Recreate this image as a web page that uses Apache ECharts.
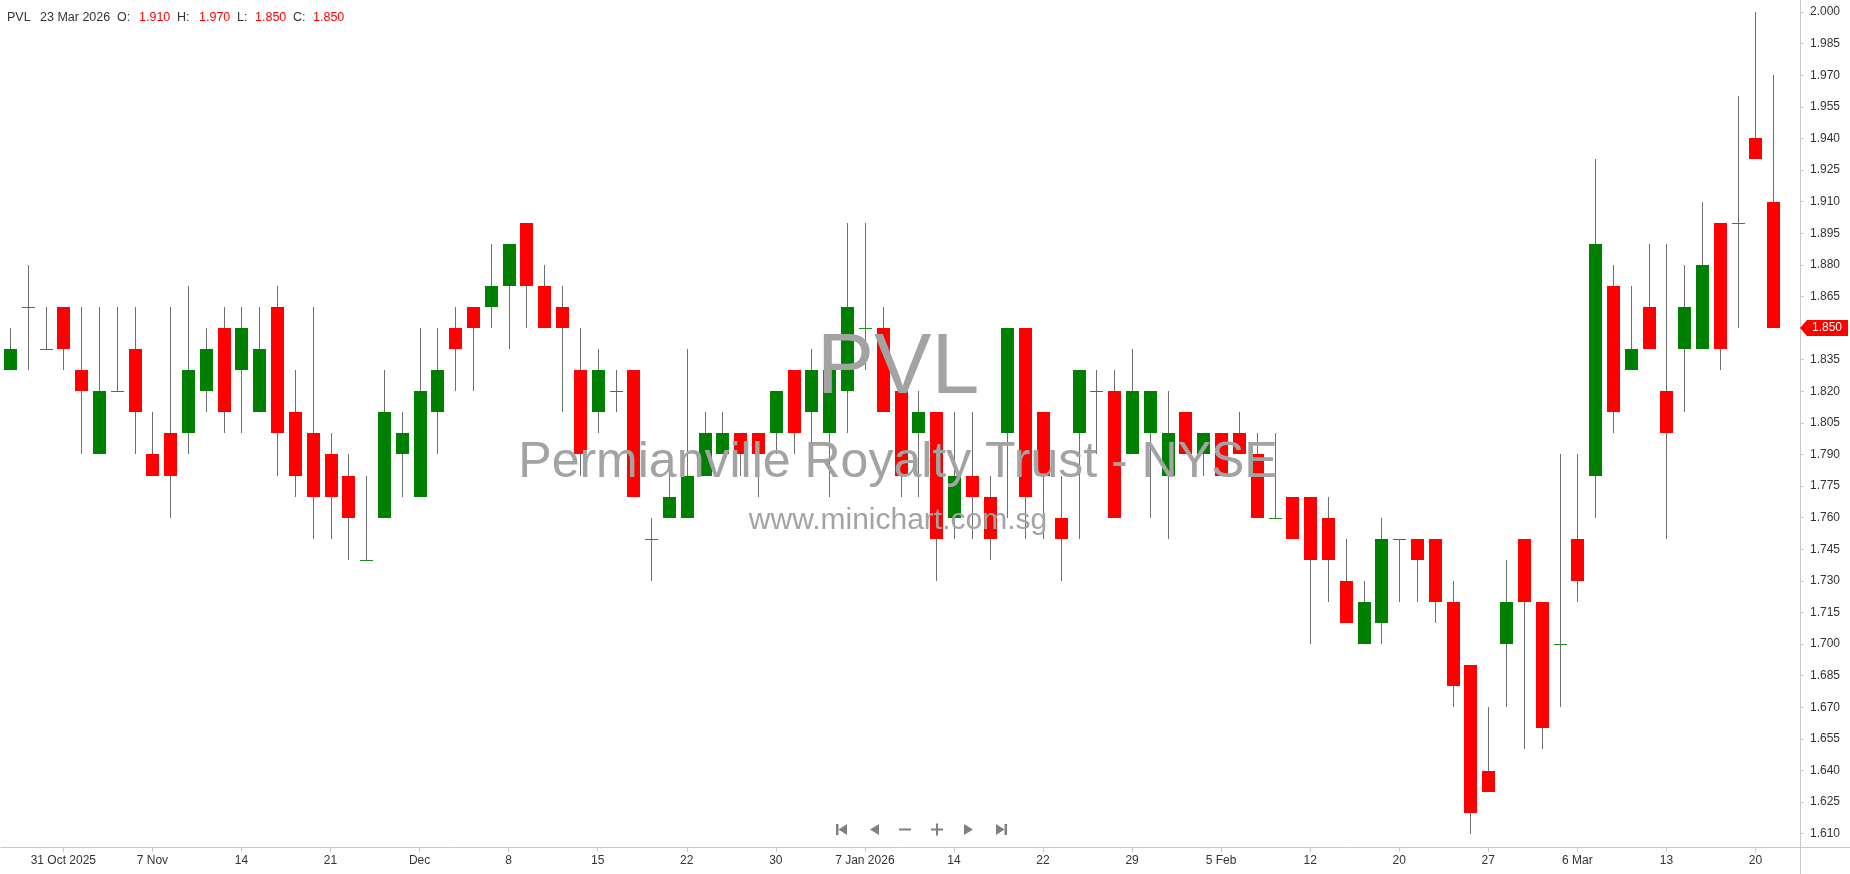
<!DOCTYPE html>
<html><head><meta charset="utf-8">
<script src="https://cdn.jsdelivr.net/npm/echarts@6/dist/echarts.min.js"></script>
<style>html,body{margin:0;padding:0;background:#fff;}#c{width:1850px;height:874px;}</style>
</head><body><div id="c"></div>
<script>
var dates = ['2025-10-28','2025-10-29','2025-10-30','2025-10-31',
'2025-11-03','2025-11-04','2025-11-05','2025-11-06','2025-11-07',
'2025-11-10','2025-11-11','2025-11-12','2025-11-13','2025-11-14',
'2025-11-17','2025-11-18','2025-11-19','2025-11-20','2025-11-21',
'2025-11-24','2025-11-25','2025-11-26','2025-11-28',
'2025-12-01','2025-12-02','2025-12-03','2025-12-04','2025-12-05',
'2025-12-08','2025-12-09','2025-12-10','2025-12-11','2025-12-12',
'2025-12-15','2025-12-16','2025-12-17','2025-12-18','2025-12-19',
'2025-12-22','2025-12-23','2025-12-24','2025-12-26',
'2025-12-29','2025-12-30','2025-12-31',
'2026-01-02','2026-01-05','2026-01-06','2026-01-07','2026-01-08','2026-01-09',
'2026-01-12','2026-01-13','2026-01-14','2026-01-15','2026-01-16',
'2026-01-20','2026-01-21','2026-01-22','2026-01-23',
'2026-01-26','2026-01-27','2026-01-28','2026-01-29','2026-01-30',
'2026-02-02','2026-02-03','2026-02-04','2026-02-05','2026-02-06',
'2026-02-09','2026-02-10','2026-02-11','2026-02-12','2026-02-13',
'2026-02-17','2026-02-18','2026-02-19','2026-02-20',
'2026-02-23','2026-02-24','2026-02-25','2026-02-26','2026-02-27',
'2026-03-02','2026-03-03','2026-03-04','2026-03-05','2026-03-06',
'2026-03-09','2026-03-10','2026-03-11','2026-03-12','2026-03-13',
'2026-03-16','2026-03-17','2026-03-18','2026-03-19','2026-03-20',
'2026-03-23'];

var open = [1.83,1.86,1.84,1.86,1.83,1.79,1.82,1.84,1.79,1.80,
1.80,1.82,1.85,1.83,1.81,1.86,1.81,1.80,1.79,1.78,
1.74,1.76,1.79,1.77,1.81,1.85,1.86,1.86,1.87,1.90,
1.87,1.86,1.83,1.81,1.82,1.83,1.75,1.76,1.76,1.78,
1.79,1.80,1.80,1.80,1.83,1.81,1.80,1.82,1.85,1.85,
1.82,1.80,1.81,1.76,1.78,1.77,1.80,1.85,1.81,1.76,
1.80,1.82,1.82,1.79,1.80,1.78,1.81,1.79,1.80,1.80,
1.79,1.76,1.77,1.77,1.76,1.73,1.70,1.71,1.75,1.75,
1.75,1.72,1.69,1.64,1.70,1.75,1.72,1.70,1.75,1.78,
1.87,1.83,1.86,1.82,1.84,1.84,1.90,1.90,1.94,1.91];

var high = [1.85,1.88,1.86,1.86,1.86,1.86,1.86,1.86,1.81,1.86,
1.87,1.85,1.86,1.86,1.86,1.87,1.83,1.86,1.80,1.79,
1.78,1.83,1.81,1.85,1.85,1.86,1.86,1.89,1.89,1.90,
1.88,1.87,1.85,1.84,1.83,1.83,1.76,1.79,1.84,1.81,
1.81,1.80,1.80,1.82,1.83,1.84,1.83,1.90,1.90,1.86,
1.82,1.82,1.81,1.81,1.81,1.78,1.85,1.85,1.81,1.78,
1.83,1.83,1.83,1.84,1.82,1.82,1.81,1.80,1.80,1.81,
1.80,1.80,1.77,1.77,1.77,1.75,1.73,1.76,1.75,1.75,
1.75,1.73,1.69,1.67,1.74,1.75,1.72,1.79,1.79,1.93,
1.88,1.87,1.89,1.89,1.88,1.91,1.90,1.96,2.00,1.97];

var low = [1.83,1.83,1.84,1.83,1.79,1.79,1.82,1.79,1.78,1.76,
1.79,1.81,1.80,1.80,1.81,1.78,1.77,1.75,1.75,1.74,
1.74,1.76,1.77,1.77,1.79,1.82,1.82,1.85,1.84,1.85,
1.85,1.81,1.78,1.80,1.81,1.77,1.73,1.76,1.76,1.78,
1.79,1.78,1.77,1.79,1.79,1.79,1.77,1.80,1.83,1.81,
1.77,1.77,1.73,1.75,1.75,1.74,1.76,1.75,1.75,1.73,
1.75,1.79,1.76,1.79,1.76,1.75,1.79,1.78,1.78,1.79,
1.76,1.76,1.75,1.70,1.72,1.71,1.70,1.70,1.72,1.72,
1.71,1.67,1.61,1.63,1.67,1.65,1.65,1.67,1.72,1.76,
1.80,1.83,1.84,1.75,1.81,1.84,1.83,1.85,1.93,1.85];

var close = [1.84,1.86,1.84,1.84,1.82,1.82,1.82,1.81,1.78,1.78,
1.83,1.84,1.81,1.85,1.84,1.80,1.78,1.77,1.77,1.76,
1.74,1.81,1.80,1.82,1.83,1.84,1.85,1.87,1.89,1.87,
1.85,1.85,1.79,1.83,1.82,1.77,1.75,1.77,1.78,1.80,
1.80,1.79,1.79,1.82,1.80,1.83,1.83,1.86,1.85,1.81,
1.78,1.81,1.75,1.78,1.77,1.75,1.85,1.77,1.78,1.75,
1.83,1.82,1.76,1.82,1.82,1.80,1.79,1.80,1.78,1.79,
1.76,1.76,1.75,1.74,1.74,1.71,1.72,1.75,1.75,1.74,
1.72,1.68,1.62,1.63,1.72,1.72,1.66,1.70,1.73,1.89,
1.81,1.84,1.84,1.80,1.86,1.88,1.84,1.90,1.93,1.85];

var tickDates = ['2025-10-31','2025-11-07','2025-11-14','2025-11-21','2025-12-01','2025-12-08',
'2025-12-15','2025-12-22','2025-12-30','2026-01-07','2026-01-14','2026-01-22','2026-01-29',
'2026-02-05','2026-02-12','2026-02-20','2026-02-27','2026-03-06','2026-03-13','2026-03-20'];
var tickLabels = ['31 Oct 2025','7 Nov','14','21','Dec','8','15','22','30','7 Jan 2026',
'14','22','29','5 Feb','12','20','27','6 Mar','13','20'];

var yTicks = [1.610,1.625,1.640,1.655,1.670,1.685,1.700,1.715,1.730,1.745,1.760,1.775,1.790,
1.805,1.820,1.835,1.850,1.865,1.880,1.895,1.910,1.925,1.940,1.955,1.970,1.985,2.000];

var symbol = 'PVL';
var company = 'Permianville Royalty Trust - NYSE';
var site = 'www.minichart.com.sg';

var FONT = '"Liberation Sans", Arial, sans-serif';
var months = ['Jan','Feb','Mar','Apr','May','Jun','Jul','Aug','Sep','Oct','Nov','Dec'];

var labelMap = {};
tickDates.forEach(function (d, k) { labelMap[d] = tickLabels[k]; });
var cats = dates.concat(['']);
var ohlc = dates.map(function (d, i) { return [i, open[i], close[i], low[i], high[i]]; });

function renderItem(params, api) {
  var i = api.value(0), o = api.value(1), c = api.value(2), l = api.value(3), h = api.value(4);
  var pO = api.coord([i, o]), pC = api.coord([i, c]), pL = api.coord([i, l]), pH = api.coord([i, h]);
  var xc = Math.round(pO[0]) + 0.5;
  var bw = Math.round(api.size([1, 0])[0] * 0.75);
  var top = Math.round(Math.min(pO[1], pC[1])), bot = Math.round(Math.max(pO[1], pC[1]));
  var x0 = Math.round(xc - bw / 2);
  var ch = [{ type: 'line', shape: { x1: xc, y1: Math.round(pH[1]), x2: xc, y2: Math.round(pL[1]) },
    style: { stroke: '#6e6e6e', lineWidth: 1 } }];
  if (bot - top < 1) {
    ch.push({ type: 'rect', shape: { x: x0, y: top, width: bw, height: 1 }, style: { fill: '#1f8f1f' } });
  } else {
    ch.push({ type: 'rect', shape: { x: x0, y: top, width: bw, height: bot - top },
      style: { fill: c >= o ? '#008000' : '#ff0000' } });
  }
  return { type: 'group', children: ch };
}

var chart = echarts.init(document.getElementById('c'), null, { renderer: 'canvas' });
chart.setOption({
  animation: false,
  backgroundColor: '#ffffff',
  grid: { left: 1, right: 50, top: 0, bottom: 27, containLabel: false },
  xAxis: {
    type: 'category', data: cats, boundaryGap: true,
    axisLine: { show: true, lineStyle: { color: '#c8c8c8', width: 1 } },
    axisTick: { show: true, alignWithLabel: true, length: 5, lineStyle: { color: '#c8c8c8' },
      interval: function (idx, val) { return labelMap[val] !== undefined; } },
    axisLabel: { show: true, margin: 8, color: '#333', fontSize: 12, fontFamily: FONT,
      interval: function (idx, val) { return labelMap[val] !== undefined; },
      formatter: function (val) { return labelMap[val] || ''; } },
    splitLine: { show: false }
  },
  yAxis: {
    type: 'value', position: 'right', min: 1.6037, max: 2.0057, scale: true,
    axisLine: { show: true, lineStyle: { color: '#c8c8c8', width: 1 } },
    axisTick: { show: true, length: 4, lineStyle: { color: '#cccccc' }, customValues: yTicks },
    axisLabel: { show: true, margin: 10, color: '#333', fontSize: 12, fontFamily: FONT,
      customValues: yTicks, formatter: function (v) { return v.toFixed(3); } },
    splitLine: { show: false }
  },
  series: [{
    type: 'custom', renderItem: renderItem, data: ohlc,
    encode: { x: 0, y: [1, 2, 3, 4] }, z: 5, clip: true
  }]
});

var n = dates.length - 1;
var dp = dates[n].split('-');
var dateStr = (+dp[2]) + ' ' + months[+dp[1] - 1] + ' ' + dp[0];
var yLast = chart.convertToPixel({ yAxisIndex: 0 }, close[n]);
var yBottom = chart.convertToPixel({ yAxisIndex: 0 }, 1.6037);
var xAxisX = 1800;

function txt(text, x, y, fill, size, align, z) {
  return { type: 'text', x: x, y: y, z: z || 50,
    style: { text: text, fill: fill, font: size + 'px ' + FONT, fontSize: size, fontFamily: FONT,
      align: align || 'left', verticalAlign: 'middle', textAlign: align || 'left', textVerticalAlign: 'middle' } };
}
function tri(points) {
  return { type: 'polygon', z: 50, shape: { points: points }, style: { fill: '#808080' } };
}
function rect(x, y, w, h) {
  return { type: 'rect', z: 50, shape: { x: x, y: y, width: w, height: h }, style: { fill: '#808080' } };
}

var g = [
  // watermark
  txt(symbol, 898, 369, '#a3a3a3', 86, 'center', 0),
  txt(company, 898, 463, '#a3a3a3', 50, 'center', 0),
  txt(site, 898, 521, '#a3a3a3', 30, 'center', 0),
  // header
  txt(symbol, 7, 18, '#333', 12.5),
  txt(dateStr, 40, 18, '#333', 12.5),
  txt('O:', 117, 18, '#333', 12.5), txt(open[n].toFixed(3), 139, 18, '#ff0000', 12.5),
  txt('H:', 177, 18, '#333', 12.5), txt(high[n].toFixed(3), 199, 18, '#ff0000', 12.5),
  txt('L:', 237, 18, '#333', 12.5), txt(low[n].toFixed(3), 255, 18, '#ff0000', 12.5),
  txt('C:', 293, 18, '#333', 12.5), txt(close[n].toFixed(3), 313, 18, '#ff0000', 12.5),
  // axis extensions
  { type: 'line', z: 40, shape: { x1: xAxisX, y1: Math.round(yBottom) + 0.5, x2: 1850, y2: Math.round(yBottom) + 0.5 }, style: { stroke: '#c8c8c8', lineWidth: 1 } },
  { type: 'line', z: 40, shape: { x1: xAxisX + 0.5, y1: Math.round(yBottom), x2: xAxisX + 0.5, y2: 874 }, style: { stroke: '#c8c8c8', lineWidth: 1 } },
  // last price tag
  { type: 'polygon', z: 60, shape: { points: [[xAxisX, yLast], [xAxisX + 7, yLast - 8], [1848, yLast - 8], [1848, yLast + 8], [xAxisX + 7, yLast + 8]] }, style: { fill: '#ff0000' } },
  txt(close[n].toFixed(3), 1827, yLast, '#ffffff', 12, 'center', 61),
  // navigation icons
  rect(836, 824, 2.5, 11), tri([[847, 824], [838.5, 829.5], [847, 835]]),
  tri([[879, 824], [870, 829.5], [879, 835]]),
  rect(899, 828.5, 12, 2),
  rect(931, 828.5, 12, 2), rect(936, 823.5, 2, 12),
  tri([[964, 824], [973, 829.5], [964, 835]]),
  tri([[996, 824], [1004.5, 829.5], [996, 835]]), rect(1004.5, 824, 2.5, 11)
];
chart.setOption({ graphic: g });
</script>
</body></html>
